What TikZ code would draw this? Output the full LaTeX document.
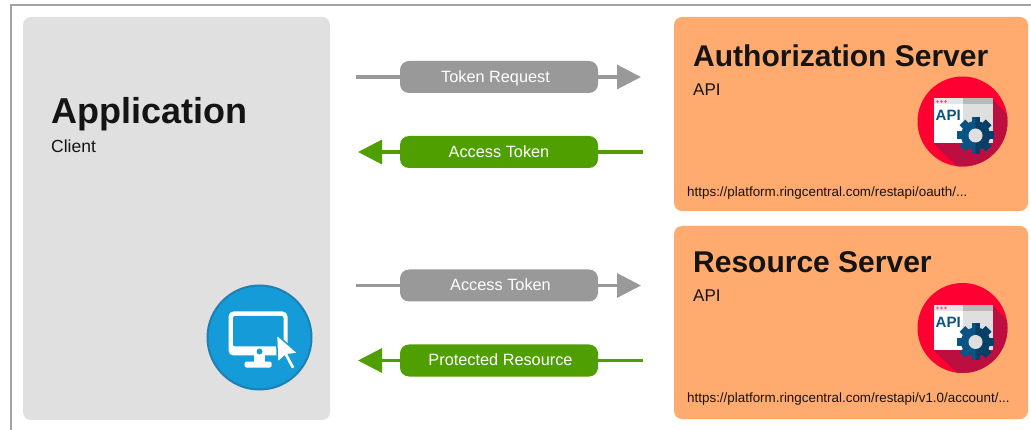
\documentclass[tikz,border=0pt]{standalone}
\usepackage{fontspec}
\setmainfont{Liberation Sans}
\usetikzlibrary{positioning, arrows.meta, calc}
\definecolor{panelgray}{HTML}{E0E0E0}
\definecolor{serverorange}{HTML}{FFAA6E}
\definecolor{flowgray}{HTML}{999999}
\definecolor{flowgreen}{HTML}{4F9F00}
\definecolor{framegray}{HTML}{A3A3A3}
\definecolor{apired}{HTML}{FF0033}
\definecolor{apidark}{HTML}{BD0F3F}
\definecolor{apiblue}{HTML}{0A5484}
\definecolor{apibluedark}{HTML}{073F66}
\definecolor{screenblue}{HTML}{169BD9}
\definecolor{screenedge}{HTML}{1E7FB2}
\definecolor{inkdark}{HTML}{141414}
\tikzset{
    apiicon/.pic={
        \fill[apired] (0,0) circle (45);
        \begin{scope}
            \clip (0,0) circle (45);
            \fill[apidark] (-29,22) -- (30,-23) -- (60,10) -- (60,60) -- (10,60) -- cycle;
        \end{scope}
        \fill[white] (-29,-23) rectangle (30,22);
        \fill[gray!25] (0,-23) rectangle (30,22);
        \fill[gray!55] (0,-23) rectangle (30,-17);
        \fill[gray!20] (-29,-23) rectangle (0,-17);
        \foreach \dotx in {-25,-21,-17} {
            \fill[apired!70] (\dotx,-20) circle (1.3);
        }
        \node[font=\bfseries, text=apiblue, inner sep=0pt, anchor=base west] at (-27,-1) {\fontsize{15}{15}\selectfont API};
        \begin{scope}[shift={(13,14)}]
            \foreach \toothangle in {0,45,...,315} {
                \fill[apiblue, rotate=\toothangle] (-4,-11) rectangle (4,-18.5);
            }
            \fill[apiblue] (0,0) circle (14.5);
            \begin{scope}
                \clip (0,-20) rectangle (20,20);
                \foreach \toothangle in {0,45,...,315} {
                    \fill[apibluedark, rotate=\toothangle] (-4,-11) rectangle (4,-18.5);
                }
                \fill[apibluedark] (0,0) circle (14.5);
            \end{scope}
            \fill[gray!25] (0,0) circle (7);
        \end{scope}
    },
    screenicon/.pic={
        \fill[screenblue, draw=screenedge, line width=2] (0,0) circle (52);
        \fill[white, rounded corners=5] (-31,-26) rectangle (28,18);
        \fill[screenblue, rounded corners=2] (-26.5,-21.5) rectangle (24,9);
        \fill[screenblue] (0,14) circle (3);
        \fill[white] (-6,18) rectangle (5,24);
        \fill[white, rounded corners=1.5] (-15,24) rectangle (12,30);
        \fill[white, draw=screenblue, line width=1.5] (17,-3) -- (39,16) -- (29,17) -- (36,30) -- (32,32) -- (25,19) -- (18,25) -- cycle;
    },
    panel/.style={rectangle, rounded corners=8, inner sep=0pt, minimum width=#1},
    flowlabel/.style={rectangle, rounded corners=9, minimum width=198, minimum height=32, inner sep=0pt, text=white, text height=12.5, text depth=1.5, font=\fontsize{16.3}{16.3}\selectfont},
    flowline/.style={line width=3.2},
    grayflow/.style={draw=flowgray, flowline, -{Triangle[length=24, width=24, fill=flowgray]}},
    greenflow/.style={draw=flowgreen, flowline, -{Triangle[length=24, width=24, fill=flowgreen]}},
    title/.style={anchor=base west, inner sep=0pt, font=\bfseries, text=inkdark},
    note/.style={anchor=base west, inner sep=0pt, text=inkdark},
}
\begin{document}
\begin{tikzpicture}[x=1pt, y=-1pt]
\useasboundingbox (0,0) rectangle (1031,430);

% Outer frame
\coordinate (framebottom) at (11,430);
\coordinate (framecorner) at (11,5.5);
\coordinate (frameright) at (1031,5.5);
\draw[framegray, line width=2] (framebottom) -- (framecorner) -- (frameright);

% Client
\node[panel=307, fill=panelgray, minimum height=403] (application) at (176.5,218.5) {};
\node[title] (apptitle) at (51,123.5) {\fontsize{36}{36}\selectfont Application};
\node[note] (appnote) at (51,152.5) {\fontsize{17.5}{17.5}\selectfont Client};
\pic at (259.5,337.5) {screenicon};

% Servers
\node[panel=354, fill=serverorange, minimum height=194] (authserver) at (851,114) {};
\node[title] (authtitle) at (693,67) {\fontsize{30}{30}\selectfont Authorization Server};
\node[note] (authnote) at (693,95.5) {\fontsize{17}{17}\selectfont API};
\node[note] (authurl) at (687,196.5) {\fontsize{13.4}{13.4}\selectfont https://platform.ringcentral.com/restapi/oauth/...};
\pic at (962.5,121.5) {apiicon};

\node[panel=354, fill=serverorange, minimum height=193] (resserver) at (851,322.5) {};
\node[title] (restitle) at (693,273) {\fontsize{30}{30}\selectfont Resource Server};
\node[note] (resnote) at (693,301.5) {\fontsize{17}{17}\selectfont API};
\node[note] (resurl) at (687,402.5) {\fontsize{13.4}{13.4}\selectfont https://platform.ringcentral.com/restapi/v1.0/account/...};
\pic at (962.5,328) {apiicon};

% Flow labels
\node[flowlabel, fill=flowgray] (tokenreq) at (499,77) {\hspace{-7pt}Token Request};
\node[flowlabel, fill=flowgreen] (accessback) at (499,152) {Access Token};
\node[flowlabel, fill=flowgray] (accessout) at (499,285.5) {\hspace{3pt}Access Token};
\node[flowlabel, fill=flowgreen] (protected) at (499,360.5) {\hspace{3pt}Protected Resource};

% Flow ends
\coordinate (tokenreqstart) at (356,77);
\coordinate (tokenreqend) at (641,77);
\coordinate (accessbackstart) at (643,152);
\coordinate (accessbackend) at (358,152);
\coordinate (accessoutstart) at (356,285.5);
\coordinate (accessoutend) at (641,285.5);
\coordinate (protectedstart) at (643,360.5);
\coordinate (protectedend) at (358,360.5);

% Each line breaks at its label
\draw[flowgray, flowline] (tokenreqstart) -- (tokenreq);
\draw[grayflow] (tokenreq) -- (tokenreqend);
\draw[flowgreen, flowline] (accessbackstart) -- (accessback);
\draw[greenflow] (accessback) -- (accessbackend);
\draw[flowgray, flowline] (accessoutstart) -- (accessout);
\draw[grayflow] (accessout) -- (accessoutend);
\draw[flowgreen, flowline] (protectedstart) -- (protected);
\draw[greenflow] (protected) -- (protectedend);

\end{tikzpicture}
\end{document}
